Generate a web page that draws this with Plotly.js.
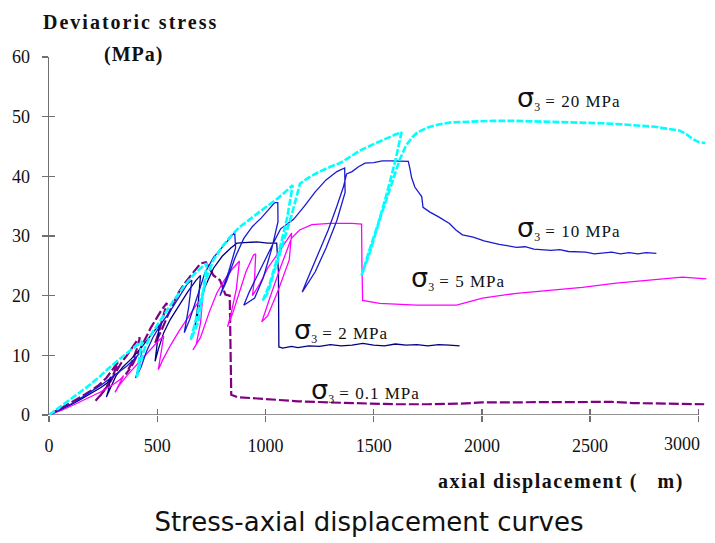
<!DOCTYPE html>
<html>
<head>
<meta charset="utf-8">
<script src="https://cdn.plot.ly/plotly-3.0.1.min.js"></script>
<style>
  html, body { margin: 0; padding: 0; background: #ffffff; }
  #chart { width: 715px; height: 543px; }
</style>
</head>
<body>
<div id="chart"></div>
<script>
// Triaxial tests: deviatoric stress (MPa) against axial displacement (µm),
// one curve per confining pressure sigma_3, with unload/reload cycles.

const xTicks = [0, 500, 1000, 1500, 2000, 2500, 3000];
const yTicks = [0, 10, 20, 30, 40, 50, 60];

// sigma_3 = 0.1 MPa
const s01X = [0, 30, 70, 110, 150, 190, 230, 265, 290, 310, 318, 300, 270, 240, 215, 245, 280, 310, 335, 360, 385, 405, 420, 405, 380, 355, 385, 415, 440, 470, 500, 520, 545, 525, 505, 490, 520, 550, 575, 600, 625, 650, 680, 700, 725, 740, 760, 790, 805, 815, 835, 838, 840, 842, 870, 950, 1050, 1150, 1300, 1450, 1600, 1750, 1900, 2000, 2150, 2300, 2450, 2600, 2700, 2800, 2900, 3027];
const s01Y = [0, 0.6, 1.4, 2.2, 3.1, 4.0, 5.0, 6.2, 7.4, 8.4, 8.8, 7.0, 5.0, 3.4, 2.4, 3.6, 5.4, 7.2, 8.8, 10.0, 11.4, 12.4, 13.0, 11.0, 8.6, 6.8, 8.4, 10.6, 12.6, 14.6, 16.4, 17.6, 18.8, 16.0, 13.6, 12.0, 14.2, 16.8, 18.8, 20.6, 22.0, 23.2, 24.6, 25.4, 25.6, 24.6, 23.4, 22.6, 21.0, 20.2, 20.0, 13.5, 8.0, 3.4, 3.0, 2.8, 2.5, 2.3, 2.1, 1.9, 1.8, 1.8, 1.9, 2.1, 2.1, 2.1, 2.2, 2.2, 2.0, 1.9, 1.8, 1.8];

// sigma_3 = 2 MPa
const s2X = [0, 50, 100, 150, 200, 240, 270, 285, 275, 265, 285, 310, 340, 380, 420, 460, 500, 510, 500, 490, 505, 530, 560, 600, 640, 680, 700, 690, 675, 690, 720, 760, 800, 840, 868, 900, 960, 1010, 1052, 1060, 1061, 1062, 1080, 1120, 1150, 1200, 1250, 1300, 1350, 1400, 1450, 1500, 1550, 1600, 1650, 1700, 1750, 1800, 1850, 1897];
const s2Y = [0, 0.8, 1.7, 2.7, 3.7, 4.6, 5.4, 6.4, 4.2, 3.0, 4.6, 6.6, 8.0, 9.4, 11.0, 12.8, 14.6, 15.2, 12.0, 9.0, 11.0, 13.8, 16.0, 18.4, 20.6, 22.6, 23.4, 19.0, 15.0, 17.4, 21.4, 24.6, 26.6, 28.0, 28.8, 28.9, 29.0, 28.8, 28.8, 24.0, 15.0, 11.4, 11.2, 11.5, 11.3, 11.6, 11.5, 11.8, 11.6, 11.7, 12.0, 11.7, 11.6, 11.9, 11.7, 11.8, 11.6, 11.8, 11.7, 11.6];

// sigma_3 = 5 MPa
const s5X = [0, 60, 120, 180, 240, 300, 330, 345, 320, 305, 325, 360, 400, 440, 480, 510, 530, 515, 505, 525, 560, 600, 640, 680, 710, 700, 680, 665, 700, 740, 775, 810, 850, 880, 865, 840, 825, 850, 880, 910, 945, 955, 950, 940, 974, 1010, 1060, 1100, 1121, 1110, 1060, 1010, 983, 1020, 1070, 1120, 1158, 1214, 1300, 1400, 1444, 1446, 1449, 1528, 1698, 1883, 2003, 2160, 2312, 2464, 2621, 2774, 2926, 3037];
const s5Y = [0, 0.8, 1.8, 2.8, 3.9, 5.2, 6.0, 6.6, 4.8, 3.8, 5.0, 6.6, 8.2, 9.8, 11.4, 12.6, 13.2, 10.0, 7.6, 9.2, 11.6, 14.0, 16.2, 18.4, 19.8, 15.4, 11.8, 10.9, 13.0, 17.2, 20.4, 22.6, 24.6, 25.8, 21.0, 16.8, 14.8, 17.2, 20.6, 24.0, 26.8, 27.0, 23.0, 20.0, 22.0, 24.6, 27.2, 29.4, 30.5, 26.0, 21.0, 16.6, 15.6, 19.6, 24.8, 29.6, 31.0, 31.9, 32.1, 32.1, 32.0, 25.0, 19.2, 18.7, 18.4, 18.4, 19.6, 20.4, 20.9, 21.4, 22.1, 22.6, 23.1, 22.8];

// sigma_3 = 10 MPa
const s10X = [0, 60, 120, 180, 240, 300, 360, 400, 430, 415, 400, 425, 450, 480, 520, 560, 600, 640, 660, 645, 625, 650, 690, 720, 760, 800, 840, 858, 862, 830, 790, 820, 860, 900, 940, 980, 1020, 1043, 1057, 1058, 1030, 990, 950, 900, 925, 970, 1010, 1050, 1070, 1100, 1130, 1180, 1230, 1280, 1330, 1366, 1368, 1330, 1280, 1230, 1170, 1190, 1240, 1290, 1330, 1360, 1375, 1400, 1430, 1460, 1500, 1540, 1580, 1620, 1660, 1668, 1675, 1690, 1710, 1722, 1728, 1760, 1800, 1850, 1880, 1910, 1960, 2010, 2080, 2120, 2160, 2200, 2240, 2320, 2360, 2400, 2480, 2520, 2560, 2600, 2640, 2680, 2720, 2760, 2806];
const s10Y = [0, 1.0, 2.2, 3.6, 5.0, 6.6, 8.2, 9.6, 10.8, 8.0, 6.2, 8.0, 10.6, 13.0, 15.4, 17.4, 19.8, 22.0, 22.6, 18.0, 13.8, 16.0, 20.4, 23.8, 26.4, 28.2, 29.8, 30.6, 28.0, 24.0, 20.0, 22.4, 26.4, 29.6, 31.6, 33.0, 34.6, 35.6, 35.6, 32.4, 28.0, 23.0, 19.6, 18.4, 20.6, 24.0, 27.0, 29.8, 31.2, 32.0, 32.8, 35.0, 37.4, 39.4, 40.8, 41.4, 37.3, 32.6, 28.0, 24.0, 20.6, 22.4, 26.6, 31.0, 35.0, 38.2, 40.4, 40.8, 41.6, 42.2, 42.3, 42.6, 42.6, 42.6, 42.5, 41.2, 39.8, 38.2, 37.2, 36.6, 34.8, 34.0, 33.2, 32.1, 31.0, 30.2, 29.8, 29.2, 28.6, 28.3, 28.1, 28.2, 27.8, 27.6, 27.7, 27.4, 27.3, 27.0, 27.1, 27.3, 27.0, 27.2, 27.0, 27.2, 27.1];

// sigma_3 = 20 MPa
const s20X = [0, 60, 120, 180, 240, 268, 320, 380, 430, 415, 406, 420, 440, 470, 520, 572, 620, 660, 700, 729, 710, 690, 655, 675, 705, 730, 760, 800, 840, 881, 920, 960, 1000, 1057, 1100, 1126, 1100, 1060, 1020, 988, 1010, 1050, 1090, 1120, 1149, 1160, 1200, 1250, 1300, 1343, 1389, 1440, 1500, 1560, 1600, 1629, 1600, 1560, 1520, 1480, 1444, 1480, 1530, 1580, 1620, 1650, 1680, 1703, 1750, 1800, 1850, 1900, 1975, 2050, 2150, 2250, 2312, 2400, 2464, 2550, 2650, 2727, 2800, 2852, 2912, 2943, 2972, 3004, 3032];
const s20Y = [0, 1.6, 3.2, 4.8, 6.6, 7.6, 9.2, 11.0, 12.4, 9.0, 6.4, 8.4, 11.0, 13.4, 16.2, 19.0, 21.4, 23.2, 24.6, 25.4, 20.0, 15.6, 12.6, 15.6, 19.8, 23.2, 26.0, 28.2, 30.0, 31.5, 32.6, 33.8, 34.8, 36.3, 37.6, 38.5, 33.0, 27.0, 22.0, 19.2, 20.4, 25.0, 29.6, 33.4, 37.3, 38.8, 39.8, 40.8, 41.6, 42.2, 43.2, 44.4, 45.4, 46.4, 47.0, 47.4, 42.6, 37.0, 32.0, 27.6, 23.4, 27.0, 33.0, 38.4, 42.8, 45.2, 46.6, 47.4, 48.2, 48.7, 49.0, 49.1, 49.2, 49.3, 49.3, 49.2, 49.2, 49.1, 49.0, 48.9, 48.7, 48.5, 48.3, 48.0, 47.7, 47.1, 46.3, 45.7, 45.6];

// Curve labels
const labelText = ['20', '10', '5', '2', '0.1'];
const labelX = [2153, 2153, 1663, 1123, 1201];
const labelY = [53.1, 31.3, 23.0, 14.2, 4.2];

const serif = 'Liberation Serif, Times New Roman, serif';
const ink = '#111111';

const traces = [
  { x: s01X, y: s01Y, mode: 'lines', line: { color: '#800080', width: 2.2, dash: '10px,3px' } },
  { x: s2X, y: s2Y, mode: 'lines', line: { color: '#000080', width: 1.3 } },
  { x: s5X, y: s5Y, mode: 'lines', line: { color: '#ff00ff', width: 1.3 } },
  { x: s10X, y: s10Y, mode: 'lines', line: { color: '#1a1ad0', width: 1.3 } },
  { x: s20X, y: s20Y, mode: 'lines', line: { color: '#00ffff', width: 2.6, dash: '7px,2px' } },
  { x: [], y: [], xaxis: 'x2', yaxis: 'y2' }
].map(t => Object.assign({ showlegend: false, hoverinfo: 'skip' }, t));

const sigmaLabels = labelText.map((v, i) => ({
  xref: 'x', yref: 'y', x: labelX[i], y: labelY[i],
  xanchor: 'left', yanchor: 'middle', showarrow: false,
  text: '<span style="font-family:DejaVu Sans;font-size:27px">σ</span><sub>3</sub>' +
        '<span style="letter-spacing:1px"> = ' + v + ' MPa</span>',
  font: { family: serif, size: 17, color: ink }
}));

// x tick labels; the last one is set back inside the page edge
const xTickText = xTicks.map(v => (v === 3000 ? '' : String(v)));

const axisStyle = {
  showgrid: false, zeroline: false,
  tickfont: { family: serif, size: 18, color: ink },
  tickcolor: '#707070', tickwidth: 1.3
};

const layout = {
  width: 715, height: 543,
  margin: { l: 49, r: 8, t: 57, b: 128 },
  paper_bgcolor: '#ffffff', plot_bgcolor: '#ffffff',
  showlegend: false,
  title: {
    text: 'Stress-axial displacement curves',
    font: { family: 'DejaVu Sans, sans-serif', size: 26, color: ink },
    x: (369 - 49) / 658, xanchor: 'center', xref: 'paper',
    y: 21 / 543, yanchor: 'middle', yref: 'container'
  },
  xaxis: Object.assign({}, axisStyle, {
    range: [0, 3040], tickvals: xTicks, ticktext: xTickText,
    ticks: 'outside', ticklen: 6, showline: false, ticklabelstandoff: 8
  }),
  yaxis: Object.assign({}, axisStyle, {
    range: [0, 60], tickvals: yTicks, ticktext: yTicks.map(String),
    ticks: 'outside', ticklen: 6, showline: true, linecolor: '#707070', linewidth: 1.3,
    ticklabelstandoff: 8
  }),
  xaxis2: Object.assign({}, axisStyle, {
    overlaying: 'x', range: [0, 3040], tickvals: xTicks, ticks: 'inside', ticklen: 6,
    showticklabels: false, showline: false
  }),
  yaxis2: Object.assign({}, axisStyle, {
    overlaying: 'y', range: [0, 60], tickvals: yTicks, ticks: 'inside', ticklen: 6,
    showticklabels: false, showline: false
  }),
  shapes: [
    { type: 'line', xref: 'x', yref: 'y', x0: 0, x1: 3000, y0: 0, y1: 0,
      line: { color: '#707070', width: 1.3 }, layer: 'below' }
  ],
  annotations: sigmaLabels.concat([
    { xref: 'paper', yref: 'paper', x: (682 - 49) / 658, y: (415 - 444) / 358,
      xanchor: 'center', yanchor: 'middle', showarrow: false,
      text: String(xTicks[xTicks.length - 1]), font: { family: serif, size: 18, color: ink } },
    { xref: 'paper', yref: 'paper', x: (130 - 49) / 658, y: (415 - 22) / 358, xanchor: 'center', yanchor: 'middle',
      showarrow: false, text: '<b><span style="letter-spacing:2px">Deviatoric stress</span></b>',
      font: { family: serif, size: 20, color: ink } },
    { xref: 'paper', yref: 'paper', x: (133 - 49) / 658, y: (415 - 55) / 358, xanchor: 'center', yanchor: 'middle',
      showarrow: false, text: '<b><span style="letter-spacing:1px">(MPa)</span></b>',
      font: { family: serif, size: 20, color: ink } },
    { xref: 'paper', yref: 'paper', x: (686 - 49) / 658, y: (415 - 481) / 358, xanchor: 'right', yanchor: 'middle',
      showarrow: false, text: '<b><span style="letter-spacing:1.5px">axial displacement (&nbsp;&nbsp;&nbsp;m)</span></b>',
      font: { family: serif, size: 20, color: ink } }
  ])
};

Plotly.newPlot('chart', traces, layout, { staticPlot: true, displayModeBar: false });
</script>
</body>
</html>
